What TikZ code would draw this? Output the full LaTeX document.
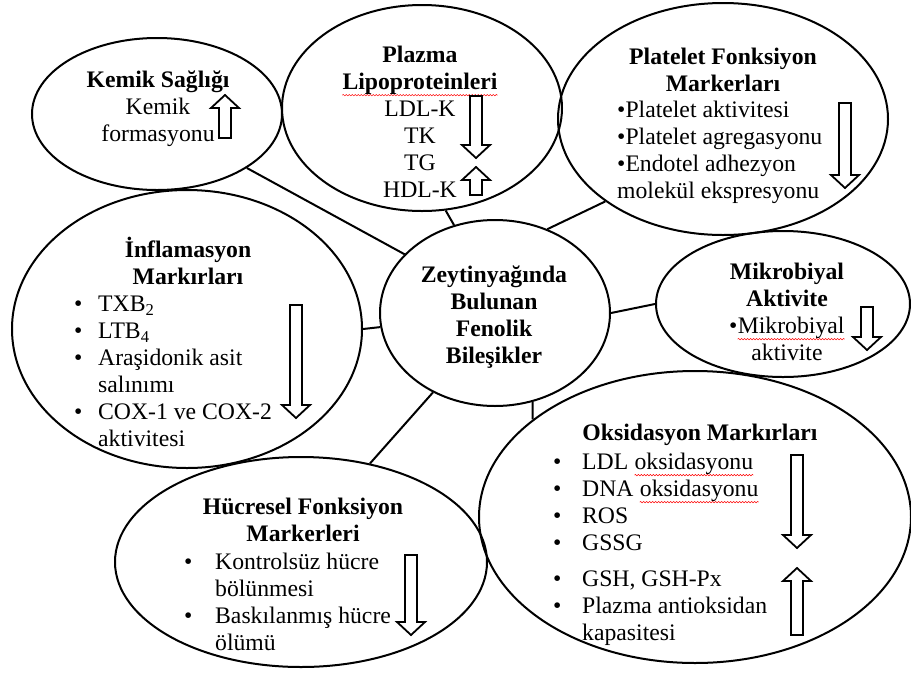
\documentclass[tikz,border=0pt]{standalone}
\usepackage{fontspec}
\setmainfont{Liberation Serif}
\usetikzlibrary{shapes.geometric, decorations.pathmorphing}

% red spell-check wave under a word
\newcommand{\redwave}[1]{\tikz[baseline=(w.base)]{\node[inner sep=0pt] (w) {#1}; \draw[red, line width=0.5pt, decorate, decoration={snake, amplitude=0.7pt, segment length=3pt}] ([yshift=-5.5pt]w.base west) -- ([yshift=-5.5pt]w.base east);}}
% hollow block arrows: x, tail/tip y values
\newcommand{\downblock}[3]{\draw[blockarr] (#1-6,#2) -- (#1+6,#2) -- (#1+6,#3-13) -- (#1+14,#3-13) -- (#1,#3) -- (#1-14,#3-13) -- (#1-6,#3-13) -- cycle;}
\newcommand{\upblock}[3]{\draw[blockarr] (#1,#2) -- (#1+14,#2+13) -- (#1+6,#2+13) -- (#1+6,#3) -- (#1-6,#3) -- (#1-6,#2+13) -- (#1-14,#2+13) -- cycle;}

\begin{document}
\begin{tikzpicture}[x=1pt, y=-1pt,
  bubble/.style={draw, ellipse, line width=2pt, inner sep=0pt},
  txt/.style={inner sep=0pt, font=\fontsize{23.7}{27}\selectfont},
  headtxt/.style={txt, align=center, anchor=north, font=\fontsize{23.7}{27}\selectfont\bfseries},
  listtxt/.style={txt, align=left, anchor=north west},
  link/.style={line width=2pt},
  blockarr/.style={draw, fill=white, line width=1.8pt, line join=miter}]
\useasboundingbox (0,0) rectangle (911,673);

% bubbles
\node[bubble, minimum width=250pt, minimum height=152pt] (kemik) at (157,114) {};
\node[bubble, minimum width=280pt, minimum height=206pt] (plazma) at (422,108) {};
\node[bubble, minimum width=330pt, minimum height=232pt] (platelet) at (723,119) {};
\node[bubble, minimum width=254pt, minimum height=146pt] (mikro) at (783,304) {};
\node[bubble, minimum width=230pt, minimum height=186pt] (zeyt) at (495,313) {};
\node[bubble, minimum width=350pt, minimum height=278pt] (inflam) at (187,329) {};
\node[bubble, minimum width=372pt, minimum height=210pt] (hucre) at (301,562) {};
\node[bubble, minimum width=432pt, minimum height=292pt] (oksid) at (695,517) {};

% links to the centre
\draw[link] (kemik.-31) -- (zeyt.147);
\draw[link] (plazma.-77) -- (zeyt.115);
\draw[link] (platelet.215) -- (zeyt.58);
\draw[link] (mikro.180) -- (zeyt.0);
\draw[link] (inflam.0) -- (zeyt.187);
\draw[link] (hucre.55) -- (zeyt.232);
\draw[link] (oksid.149) -- (zeyt.-67);

% texts
\node[headtxt] (zeytT) at (494,266) {Zeytinyağında\\Bulunan\\Fenolik\\Bileşikler};

\node[txt, align=center, anchor=north] (kemikT) at (158,71) {\textbf{Kemik Sağlığı}\\Kemik\\formasyonu};

\node[txt, align=center, anchor=north] (plazmaT) at (420,46) {\textbf{Plazma}\\\textbf{\redwave{Lipoproteinleri}}\\LDL-K\\TK\\TG\\HDL-K};

\node[headtxt] (plateletH) at (723,48) {Platelet Fonksiyon\\Markerları};
\node[listtxt] (plateletL) at (617,101) {\textbullet Platelet aktivitesi\\\textbullet Platelet agregasyonu\\\textbullet Endotel adhezyon\\molekül ekspresyonu};

\node[txt, align=center, anchor=north] (mikroT) at (787,263) {\textbf{Mikrobiyal}\\\textbf{Aktivite}\\\textbullet\redwave{Mikrobiyal}\\aktivite};

\node[headtxt] (inflamH) at (188,237) {İnflamasyon\\Markırları};
\node[listtxt] (inflamL) at (74,296) {\makebox[24pt][l]{\textbullet}TXB\textsubscript{2}\\\makebox[24pt][l]{\textbullet}LTB\textsubscript{4}\\\makebox[24pt][l]{\textbullet}Araşidonik asit\\\hspace*{24pt}salınımı\\\makebox[24pt][l]{\textbullet}COX-1 ve COX-2\\\hspace*{24pt}aktivitesi};

\node[headtxt] (hucreH) at (303,498) {Hücresel Fonksiyon\\Markerleri};
\node[listtxt] (hucreL) at (184,553) {\makebox[31pt][l]{\textbullet}Kontrolsüz hücre\\\hspace*{31pt}bölünmesi\\\makebox[31pt][l]{\textbullet}Baskılanmış hücre\\\hspace*{31pt}ölümü};

\node[headtxt] (oksidH) at (700,424) {Oksidasyon Markırları};
\node[listtxt] (oksidL) at (553,453) {\makebox[29pt][l]{\textbullet}LDL \redwave{oksidasyonu}\\\makebox[29pt][l]{\textbullet}DNA \redwave{oksidasyonu}\\\makebox[29pt][l]{\textbullet}ROS\\\makebox[29pt][l]{\textbullet}GSSG\\[9pt]\makebox[29pt][l]{\textbullet}GSH, GSH-Px\\\makebox[29pt][l]{\textbullet}Plazma antioksidan\\\hspace*{29pt}kapasitesi};

% block arrows
\upblock{225}{95}{138}
\downblock{476}{96}{158}
\upblock{476}{167}{195}
\downblock{845}{103}{188}
\downblock{867}{307}{350}
\downblock{296}{305}{418}
\downblock{411}{555}{635}
\downblock{797}{455}{548}
\upblock{797}{568}{635}

\end{tikzpicture}
\end{document}
